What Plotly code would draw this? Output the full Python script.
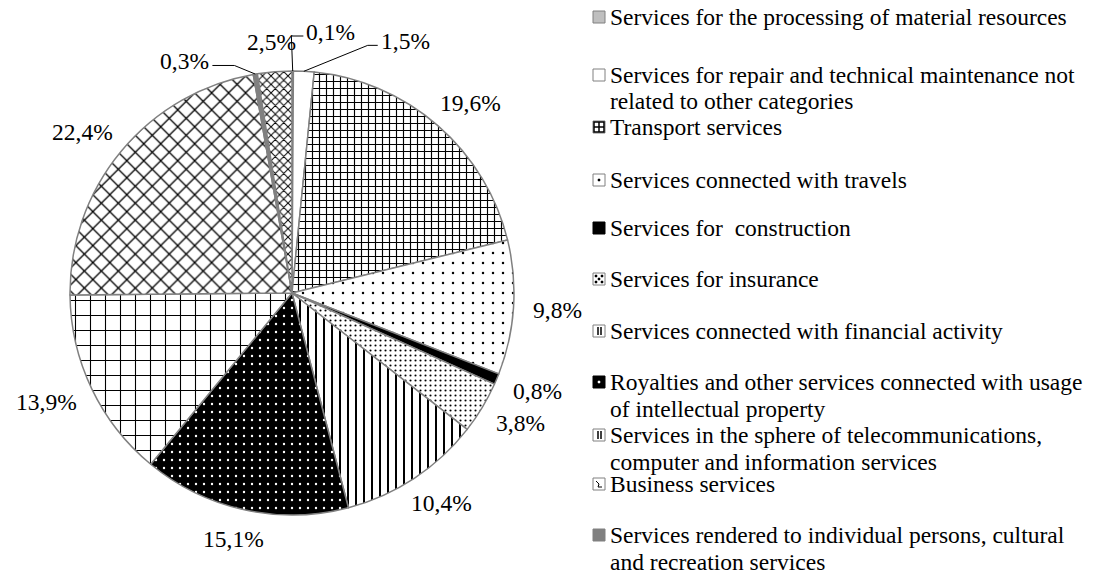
import math
import plotly.graph_objects as go

W, H = 1102, 572
OFF = 8                      # page body margin of the browser
WF, HF = W - OFF, H - OFF    # figure size so that it fills the window

# ---------------- data ----------------
categories = [
    "Services for the processing of material resources",
    "Services for repair and technical maintenance not related to other categories",
    "Transport services",
    "Services connected with travels",
    "Services for  construction",
    "Services for insurance",
    "Services connected with financial activity",
    "Royalties and other services connected with usage of intellectual property",
    "Services in the sphere of telecommunications, computer and information services",
    "Business services",
    "Services rendered to individual persons, cultural and recreation services",
    "Other services",
]
values = [0.1, 1.5, 19.6, 9.8, 0.8, 3.8, 10.4, 15.1, 13.9, 22.4, 0.3, 2.5]

# legend text as it wraps in the picture (the 12th slice has no legend entry)
legend_lines = [
    ["Services for the processing of material resources"],
    ["Services for repair and technical maintenance not", "related to other categories"],
    ["Transport services"],
    ["Services connected with travels"],
    ["Services for\u00a0 construction"],
    ["Services for insurance"],
    ["Services connected with financial activity"],
    ["Royalties and other services connected with usage", "of intellectual property"],
    ["Services in the sphere of telecommunications,", "computer and information services"],
    ["Business services"],
    ["Services rendered to individual persons, cultural", "and recreation services"],
]

# ---------------- style ----------------
FONT = "Liberation Serif"
FS = 23.5
GREY = "#808080"
cx, cy, R = 292, 293, 222          # pie centre / radius in window px

bg = ["#bfbfbf", "white", "white", "white", "black", "white", "white",
      "black", "white", "white", GREY, "white"]
fg = ["#bfbfbf", "white", "black", "black", "black", "black", "black",
      "white", "black", "black", GREY, "black"]
shape = ["", "", "+", ".", "", ".", "|", ".", "+", "x", "", "x"]
psize = [8, 8, 7, 10, 8, 5, 8, 8, 15, 12, 8, 6]
solid = [0.2, 0.2, 0.3, 0.05, 0.2, 0.14, 0.25, 0.07, 0.14, 0.2, 0.2, 0.3]


def px2p(x, y):
    return (x - OFF) / WF, 1 - (y - OFF) / HF


dx0, dy1 = px2p(cx - R, cy - R)
dx1, dy0 = px2p(cx + R, cy + R)

fig = go.Figure(go.Pie(
    labels=categories, values=values, sort=False, direction="clockwise",
    rotation=0, textinfo="none", hoverinfo="label+percent", showlegend=False,
    domain=dict(x=[dx0, dx1], y=[dy0, dy1]),
    marker=dict(colors=bg, line=dict(color=GREY, width=1.5),
                pattern=dict(shape=shape, bgcolor=bg, fgcolor=fg, size=psize,
                             solidity=solid, fillmode="replace")),
))

annotations = []
shapes = []


def seg(x0, y0, x1, y1, color="black", width=1):
    a0 = px2p(x0, y0)
    a1 = px2p(x1, y1)
    shapes.append(dict(type="line", xref="paper", yref="paper", x0=a0[0], y0=a0[1],
                       x1=a1[0], y1=a1[1], line=dict(color=color, width=width)))


def box(x0, y0, x1, y1, fill, line=GREY, lw=1):
    a0 = px2p(x0, y0)
    a1 = px2p(x1, y1)
    shapes.append(dict(type="rect", xref="paper", yref="paper", x0=a0[0], y0=a0[1],
                       x1=a1[0], y1=a1[1], fillcolor=fill, line=dict(color=line, width=lw)))


# ---------------- data labels ----------------
total = sum(values)
cw = {"0": .5, "1": .5, "2": .5, "3": .5, "4": .5, "5": .5, "6": .5, "7": .5,
      "8": .5, "9": .5, ",": .25, "%": .833}
label_shift = {0: (38, -9), 1: (99, 0), 10: (-63, 17)}
leader_stub = {0: 12, 1: 10, 10: 22}
gap = 20
cum = 0
for i, v in enumerate(values):
    th = math.radians((cum + v / 2) / total * 360)
    cum += v
    txt = f"{v:.1f}".replace(".", ",") + "%"
    w = sum(cw[c] for c in txt) * FS
    h = 20
    s, c = math.sin(th), math.cos(th)
    lx = cx + (R + gap) * s + w / 2 * s
    ly = cy - (R + gap) * c - h / 2 * c
    if i in label_shift:
        ddx, ddy = label_shift[i]
        lx += ddx
        ly += ddy
        ex, ey = cx + R * s, cy - R * c
        if lx > ex:
            side = lx - w / 2 - 3
            elbow = side - leader_stub[i]
        else:
            side = lx + w / 2 + 3
            elbow = side + leader_stub[i]
        yl = ly + 4
        seg(ex, ey, elbow, yl)
        seg(elbow, yl, side, yl)
    ax, ay = px2p(lx, ly)
    annotations.append(dict(x=ax, y=ay, xref="paper", yref="paper", text=txt,
                            showarrow=False, xanchor="center", yanchor="middle",
                            font=dict(family=FONT, size=FS, color="black")))

# ---------------- legend ----------------
row_y = [17, 75, 127, 180, 228, 279, 331, 382, 435, 484, 535]
line_gap = 26.5
icon_x0, icon_sz, text_x = 593, 12, 608
icon_kind = ["", "", "cross", "dot", "", "dots4", "vline", "wdot", "vline", "wave", ""]
icon_fill = ["#bfbfbf", "white", "white", "white", "black", "white", "white",
             "black", "white", "white", GREY]

for i, lines in enumerate(legend_lines):
    y = row_y[i]
    x0, x1 = icon_x0, icon_x0 + icon_sz
    y0, y1 = y - icon_sz / 2, y + icon_sz / 2
    box(x0, y0, x1, y1, icon_fill[i], line=GREY if icon_fill[i] != "black" else "black")
    k = icon_kind[i]
    mx, my = (x0 + x1) / 2, (y0 + y1) / 2
    if k == "cross":
        box(x0 + 1, y0 + 1, x1 - 1, y1 - 1, "white", line="black", lw=1.5)
        seg(mx, y0 + 1, mx, y1 - 1, width=1.5)
        seg(x0 + 1, my, x1 - 1, my, width=1.5)
    elif k == "dot":
        box(mx - 1, my - 1, mx + 1, my + 1, "black", line="black", lw=0.5)
    elif k == "dots4":
        for ddx in (-3, 3):
            for ddy in (-3, 3):
                box(mx + ddx - 1, my + ddy - 1, mx + ddx + 1, my + ddy + 1,
                    "black", line="black", lw=0.5)
        box(mx - 1, my - 1, mx + 1, my + 1, "black", line="black", lw=0.5)
    elif k == "vline":
        seg(mx - 1, y0 + 2, mx - 1, y1 - 2, width=1.5)
        seg(mx + 2, y0 + 2, mx + 2, y1 - 2, width=1.5)
    elif k == "wdot":
        box(mx - 1, my - 1, mx + 1, my + 1, "white", line="white", lw=0.5)
    elif k == "wave":
        seg(x0 + 3, y0 + 3, mx, y0 + 6, width=1)
        seg(mx, y0 + 6, mx - 1, y1 - 3, width=1)
        seg(mx - 1, y1 - 3, x1 - 3, y1 - 3, width=1)
    for j, t in enumerate(lines):
        tx, ty = px2p(text_x, y + j * line_gap)
        annotations.append(dict(x=tx, y=ty, xref="paper", yref="paper", text=t,
                                showarrow=False, xanchor="left", yanchor="middle",
                                font=dict(family=FONT, size=FS, color="black")))

fig.update_layout(
    width=WF, height=HF, margin=dict(l=0, r=0, t=0, b=0),
    paper_bgcolor="white", plot_bgcolor="white",
    annotations=annotations, shapes=shapes, showlegend=False,
)
fig.write_html("out.html")
